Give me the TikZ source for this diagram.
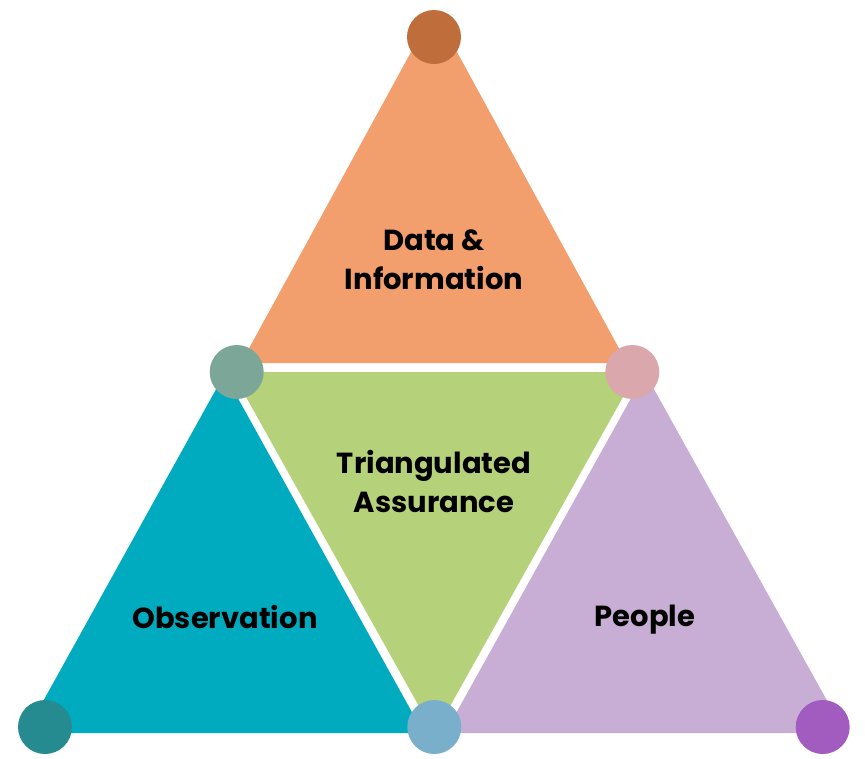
\documentclass[tikz,border=0pt]{standalone}
\usepackage{fontspec}
\setmainfont{Poppins}
\usepackage{xcolor}

\definecolor{dataorange}{HTML}{F39E6D}
\definecolor{assuregreen}{HTML}{B5D17A}
\definecolor{obsteal}{HTML}{00ABBF}
\definecolor{peoplelilac}{HTML}{C8AED4}
\definecolor{topdot}{HTML}{BE6D3B}
\definecolor{leftdot}{HTML}{7BA698}
\definecolor{rightdot}{HTML}{DAA8AC}
\definecolor{cornerteal}{HTML}{268B91}
\definecolor{midblue}{HTML}{7AAFCC}
\definecolor{cornerviolet}{HTML}{A25CBF}

\tikzset{
  dot/.style={circle, minimum size=54pt, inner sep=0pt},
  tag/.style={font=\fontsize{29}{39}\selectfont\bfseries, align=center, text=black}
}

\begin{document}
\begin{tikzpicture}[x=1pt,y=-1pt]
\useasboundingbox (0,0) rectangle (865,758);

% Four triangles, white gaps between them
\fill[dataorange] (434,10) -- (627,363) -- (241,363) -- cycle;
\fill[assuregreen] (232,372) -- (637,372) -- (434.5,734) -- cycle;
\fill[obsteal] (224.5,374) -- (423.5,733) -- (25.5,733) -- cycle;
\fill[peoplelilac] (645,373) -- (845,733) -- (445,733) -- cycle;

% Corner dots
\node[dot, fill=topdot] (top) at (434,37) {};
\node[dot, fill=leftdot] (left) at (236.7,372) {};
\node[dot, fill=rightdot] (right) at (632.3,372) {};
\node[dot, fill=cornerteal] (botleft) at (45,727) {};
\node[dot, fill=midblue] (botmid) at (434.3,727) {};
\node[dot, fill=cornerviolet] (botright) at (822.7,727) {};

% Labels
\node[tag] (data) at (434,260) {Data \&\\Information};
\node[tag] (assurance) at (434,481) {Triangulated\\Assurance};
\node[tag] (observation) at (225,617) {Observation};
\node[tag] (people) at (645,620) {People};

\end{tikzpicture}
\end{document}
